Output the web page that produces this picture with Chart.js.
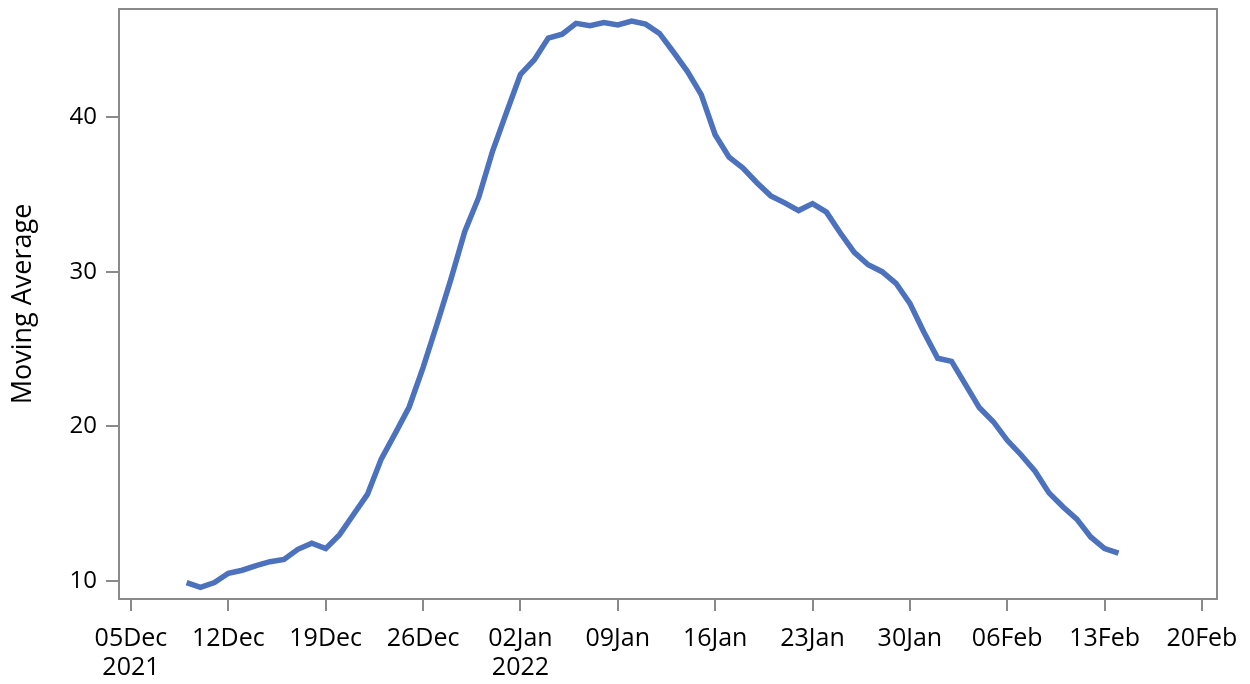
<!DOCTYPE html>
<html lang="en">
<head>
    <meta charset="UTF-8">
    <title>Moving Average</title>
    <script src="https://cdn.jsdelivr.net/npm/chart.js"></script>
    <style>
        html, body { margin: 0; padding: 0; background: #fff; }
        #wrap { width: 1250px; height: 684px; }
    </style>
</head>
<body>
    <div id="wrap"><canvas id="chart"></canvas></div>

    <script>
        // days counted from 05 Dec 2021 (day 0)
        const startDay = 4; // 09 Dec 2021
        const movingAvg = [
            9.9, 9.6, 9.9, 10.5, 10.7, 11.0, 11.25, 11.4, 12.05, 12.45, 12.1, 13.0,
            14.3, 15.6, 17.9, 19.55, 21.25, 23.8, 26.6, 29.5, 32.6, 34.8, 37.8,
            40.3, 42.75, 43.7, 45.1, 45.35, 46.05, 45.9, 46.1, 45.95, 46.2, 46.0,
            45.4, 44.2, 42.95, 41.45, 38.85, 37.4, 36.7, 35.75, 34.9, 34.45, 33.95,
            34.4, 33.85, 32.5, 31.25, 30.45, 30.0, 29.25, 27.95, 26.1, 24.4,
            24.2, 22.7, 21.2, 20.3, 19.1, 18.15, 17.1, 15.7, 14.8, 14.0, 12.85, 12.1, 11.8
        ];
        const xTickDays = [0, 7, 14, 21, 28, 35, 42, 49, 56, 63, 70, 77];
        const xTickLabels = [
            ["05Dec", "2021"], "12Dec", "19Dec", "26Dec", ["02Jan", "2022"], "09Jan",
            "16Jan", "23Jan", "30Jan", "06Feb", "13Feb", "20Feb"
        ];
        const yTicks = [10, 20, 30, 40];

        const points = movingAvg.map((v, i) => ({ x: startDay + i, y: v }));
        const axisGrey = "#8a8a8a";
        const fontFamily = "'Open Sans', 'DejaVu Sans', sans-serif";

        const frame = {
            id: "frame",
            afterDraw(chart) {
                const a = chart.chartArea;
                const ctx = chart.ctx;
                ctx.save();
                ctx.strokeStyle = axisGrey;
                ctx.lineWidth = 2;
                ctx.strokeRect(a.left, a.top, a.right - a.left, a.bottom - a.top);
                ctx.restore();
            }
        };

        new Chart(document.getElementById("chart"), {
            type: "line",
            data: {
                datasets: [{
                    label: "Moving Average",
                    data: points,
                    borderColor: "#4c72bd",
                    borderWidth: 5.5,
                    pointRadius: 0,
                    tension: 0,
                    fill: false
                }]
            },
            options: {
                responsive: true,
                maintainAspectRatio: false,
                animation: false,
                layout: { padding: { top: 9, right: 33, left: 0, bottom: 0 } },
                plugins: { legend: { display: false }, tooltip: { enabled: false } },
                scales: {
                    x: {
                        type: "linear",
                        min: -0.86,
                        max: 78.08,
                        afterBuildTicks: s => { s.ticks = xTickDays.map(v => ({ value: v })); },
                        afterFit: s => {
                            s.height = 85;
                            s.paddingLeft = 0;
                            s.paddingRight = 0;
                        },
                        ticks: {
                            autoSkip: false,
                            maxRotation: 0,
                            padding: 13,
                            color: "#000",
                            font: { family: fontFamily, size: 25, lineHeight: 1.16 },
                            callback: v => xTickLabels[xTickDays.indexOf(v)]
                        },
                        grid: { drawOnChartArea: false, color: axisGrey, lineWidth: 2, tickLength: 12 },
                        border: { display: false }
                    },
                    y: {
                        min: 8.84,
                        max: 46.98,
                        afterBuildTicks: s => { s.ticks = yTicks.map(v => ({ value: v })); },
                        afterFit: s => {
                            s.width = 119;
                            s.paddingTop = 0;
                            s.paddingBottom = 0;
                        },
                        ticks: {
                            padding: 9,
                            color: "#000",
                            font: { family: fontFamily, size: 24 }
                        },
                        grid: { drawOnChartArea: false, color: axisGrey, lineWidth: 2, tickLength: 13 },
                        border: { display: false },
                        title: {
                            display: true,
                            text: "Moving Average",
                            color: "#000",
                            font: { family: fontFamily, size: 27 },
                            padding: { top: 7, bottom: 0 }
                        }
                    }
                }
            },
            plugins: [frame]
        });
    </script>
</body>
</html>
